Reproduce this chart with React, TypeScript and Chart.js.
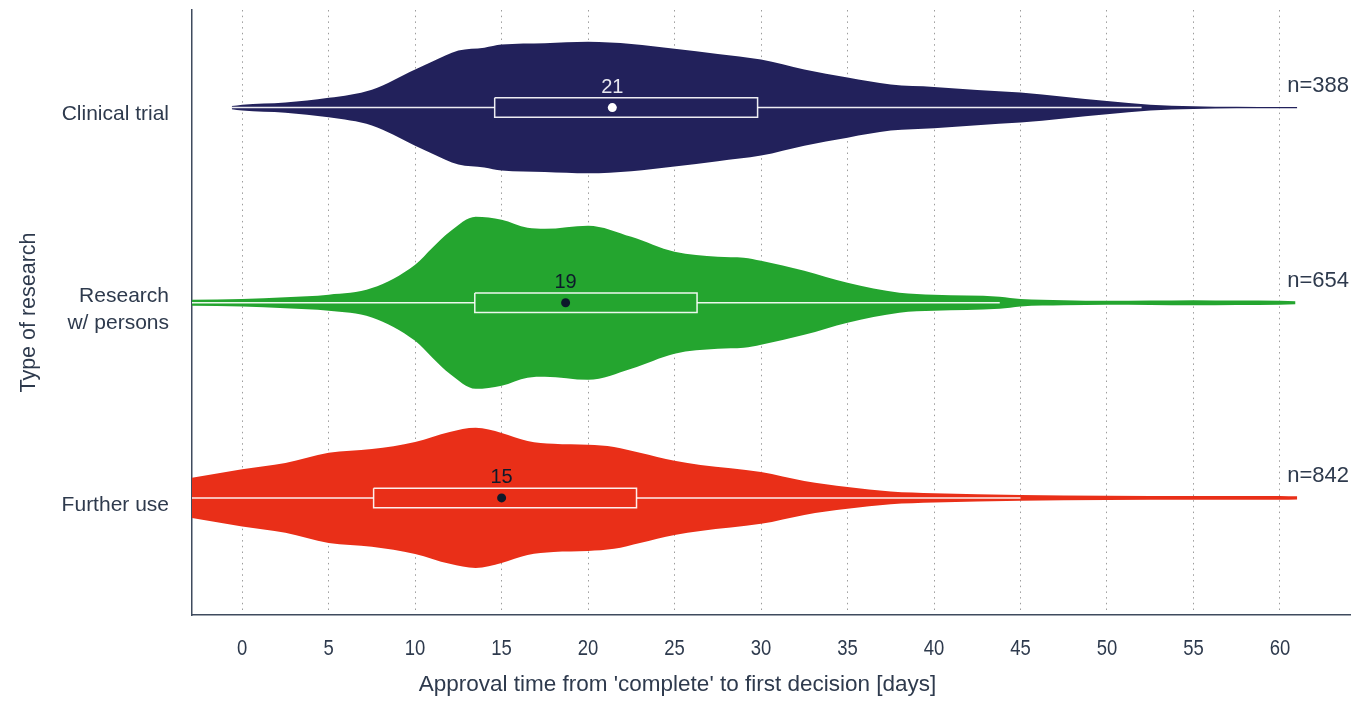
import React, { useEffect, useRef } from "react";
import { Chart, registerables } from "chart.js";

Chart.register(...registerables);

// Rows of the violin plot (top to bottom)
const categories = ["Clinical trial", "Research\nw/ persons", "Further use"];
const sampleSizes = [388, 654, 842];
const violinColors = ["#22215b", "#24a52f", "#e92f18"];
const medianDotColors = ["#ffffff", "#0d1a2b", "#0d1a2b"];
const medianTextColors = ["#e8e8f0", "#0d1a2b", "#0d1a2b"];

// Kernel density outline: approval days and half-width (share of row spacing)
const clinicalDays = [-0.6, 0, 2.5, 5, 7.5, 10, 11, 12.5, 14, 15, 17.5, 20, 22.5, 25, 27.5, 30, 32.5, 35, 37.5, 40, 42.5, 45, 47.5, 50, 52.5, 55, 57.5, 60, 61];
const clinicalDensity = [0.008, 0.015, 0.026, 0.05, 0.092, 0.195, 0.236, 0.292, 0.307, 0.323, 0.33, 0.337, 0.326, 0.302, 0.275, 0.246, 0.195, 0.154, 0.118, 0.106, 0.09, 0.077, 0.056, 0.034, 0.015, 0.007, 0.004, 0.003, 0.003];

const personsDays = [-4, -3, 0, 2.5, 5, 7.5, 10, 11, 12, 13.5, 15, 16.5, 17.5, 20, 22.5, 25, 27.5, 29, 30, 32.5, 35, 38, 40, 43.8, 45, 47.5, 50, 52.5, 55, 57.5, 60, 60.9];
const personsDensity = [0.015, 0.015, 0.019, 0.028, 0.041, 0.075, 0.195, 0.282, 0.364, 0.441, 0.425, 0.384, 0.379, 0.395, 0.338, 0.261, 0.236, 0.231, 0.215, 0.164, 0.102, 0.051, 0.041, 0.031, 0.019, 0.013, 0.01, 0.011, 0.013, 0.011, 0.01, 0.008];

const furtherDays = [-4, -3, 0, 2.5, 5, 7.5, 10, 12, 13.5, 15, 16.5, 18, 20, 21.5, 23, 25, 26.5, 30, 32.5, 35, 37.5, 40, 45, 50, 55, 60, 61];
const furtherDensity = [0.087, 0.102, 0.147, 0.179, 0.231, 0.25, 0.287, 0.338, 0.359, 0.333, 0.292, 0.277, 0.272, 0.261, 0.231, 0.19, 0.169, 0.133, 0.087, 0.056, 0.033, 0.024, 0.015, 0.011, 0.01, 0.01, 0.008];

// Box plot summary per row
const whiskerLow = [-0.6, -3.5, -3.5];
const quartile1 = [14.6, 13.45, 7.6];
const medians = [21.4, 18.7, 15.0];
const quartile3 = [29.8, 26.3, 22.8];
const whiskerHigh = [52, 43.8, 45];
const boxHalfHeight = 0.05;

const xTicks = [0, 5, 10, 15, 20, 25, 30, 35, 40, 45, 50, 55, 60];
const xTitle = "Approval time from 'complete' to first decision [days]";
const yTitle = "Type of research";

const FONT = "'Liberation Sans', Arial, sans-serif";
const TEXT = "#2e3a4d";
const AXIS = "#3f4b5e";

const violinSets = [
  { days: clinicalDays, density: clinicalDensity },
  { days: personsDays, density: personsDensity },
  { days: furtherDays, density: furtherDensity },
];

function buildDatasets() {
  const sets: any[] = [];
  violinSets.forEach((v, row) => {
    sets.push({
      type: "line",
      data: v.days.map((d, i) => ({ x: d, y: row - v.density[i] })),
      borderWidth: 0,
      borderColor: "transparent",
      pointRadius: 0,
      fill: false,
      cubicInterpolationMode: "monotone",
      order: 3,
    });
    sets.push({
      type: "line",
      data: v.days.map((d, i) => ({ x: d, y: row + v.density[i] })),
      borderWidth: 0,
      borderColor: "transparent",
      backgroundColor: violinColors[row],
      pointRadius: 0,
      fill: "-1",
      cubicInterpolationMode: "monotone",
      order: 3,
    });
  });
  const stroke = { borderColor: "rgba(255,255,255,0.92)", borderWidth: 1.5, pointRadius: 0, fill: false, tension: 0, order: 2 };
  categories.forEach((_, row) => {
    sets.push({ type: "line", ...stroke, data: [{ x: whiskerLow[row], y: row }, { x: quartile1[row], y: row }] });
    sets.push({ type: "line", ...stroke, data: [{ x: quartile3[row], y: row }, { x: whiskerHigh[row], y: row }] });
    sets.push({
      type: "line",
      ...stroke,
      data: [
        { x: quartile1[row], y: row - boxHalfHeight },
        { x: quartile3[row], y: row - boxHalfHeight },
        { x: quartile3[row], y: row + boxHalfHeight },
        { x: quartile1[row], y: row + boxHalfHeight },
        { x: quartile1[row], y: row - boxHalfHeight },
      ],
    });
  });
  sets.push({
    type: "scatter",
    data: medians.map((m, row) => ({ x: m, y: row })),
    pointRadius: 4.5,
    pointBackgroundColor: medianDotColors,
    pointBorderWidth: 0,
    order: 1,
  });
  return sets;
}

// Median values, sample sizes, x tick labels and x title
const annotations = {
  id: "violinAnnotations",
  afterDatasetsDraw(chart: any) {
    const { ctx, scales, chartArea, width } = chart;
    const xs = scales.x;
    const ys = scales.y;
    ctx.save();
    ctx.textBaseline = "middle";
    ctx.font = `20px ${FONT}`;
    medians.forEach((m, row) => {
      ctx.fillStyle = medianTextColors[row];
      ctx.textAlign = "center";
      ctx.fillText(String(Math.round(m)), xs.getPixelForValue(m), ys.getPixelForValue(row) - 20);
    });
    ctx.font = `22px ${FONT}`;
    sampleSizes.forEach((n, row) => {
      ctx.fillStyle = TEXT;
      ctx.textAlign = "right";
      ctx.fillText(`n=${n}`, chartArea.right - 1, ys.getPixelForValue(row) - 22);
    });
    ctx.fillStyle = TEXT;
    ctx.textAlign = "center";
    ctx.font = `22px ${FONT}`;
    xTicks.forEach((v) => {
      ctx.save();
      ctx.translate(xs.getPixelForValue(v), chartArea.bottom + 34);
      ctx.scale(0.84, 1);
      ctx.fillText(String(v), 0, 0);
      ctx.restore();
    });
    ctx.font = `22.5px ${FONT}`;
    ctx.fillText(xTitle, width / 2, chartArea.bottom + 70);
    ctx.restore();
  },
};

export default function App() {
  const ref = useRef<HTMLCanvasElement>(null);
  useEffect(() => {
    if (!ref.current) return;
    const chart = new Chart(ref.current, {
      type: "line",
      data: { datasets: buildDatasets() },
      options: {
        animation: false,
        responsive: false,
        layout: { padding: { left: 0, right: 5, top: 10, bottom: 0 } },
        plugins: { legend: { display: false }, tooltip: { enabled: false } },
        scales: {
          x: {
            type: "linear",
            min: -2.9,
            max: 64.05,
            afterBuildTicks: (s: any) => {
              s.ticks = xTicks.map((v) => ({ value: v }));
            },
            afterFit: (s: any) => {
              s.height = 86;
              s.paddingLeft = 0;
              s.paddingRight = 0;
            },
            grid: { color: "#9c9c9c", lineWidth: 1, drawTicks: false },
            border: { display: true, color: AXIS, width: 1.5, dash: [1.5, 4.2] },
            ticks: { display: false },
            title: { display: false },
          },
          y: {
            type: "linear",
            reverse: true,
            min: -0.5,
            max: 2.6,
            afterBuildTicks: (s: any) => {
              s.ticks = categories.map((_, i) => ({ value: i }));
            },
            afterFit: (s: any) => {
              s.width = 192;
              s.paddingTop = 0;
              s.paddingBottom = 0;
            },
            grid: { display: false, drawTicks: false },
            border: { display: true, color: AXIS, width: 1.5 },
            ticks: {
              font: { size: 21, family: FONT, lineHeight: 1.3 },
              color: TEXT,
              padding: 23,
              labelOffset: 7,
              autoSkip: false,
              callback: (v: any) => categories[Math.round(v)].split("\n"),
            },
            title: { display: true, text: yTitle, font: { size: 21.5, family: FONT }, color: TEXT, padding: { top: 16, bottom: 0 } },
          },
        },
      },
      plugins: [annotations],
    } as any);
    return () => chart.destroy();
  }, []);
  return (
    <div style={{ position: "fixed", left: 0, top: 0, width: 1355, height: 701, background: "#ffffff" }}>
      <canvas ref={ref} width={1355} height={701} style={{ display: "block", width: 1355, height: 701 }} />
    </div>
  );
}
